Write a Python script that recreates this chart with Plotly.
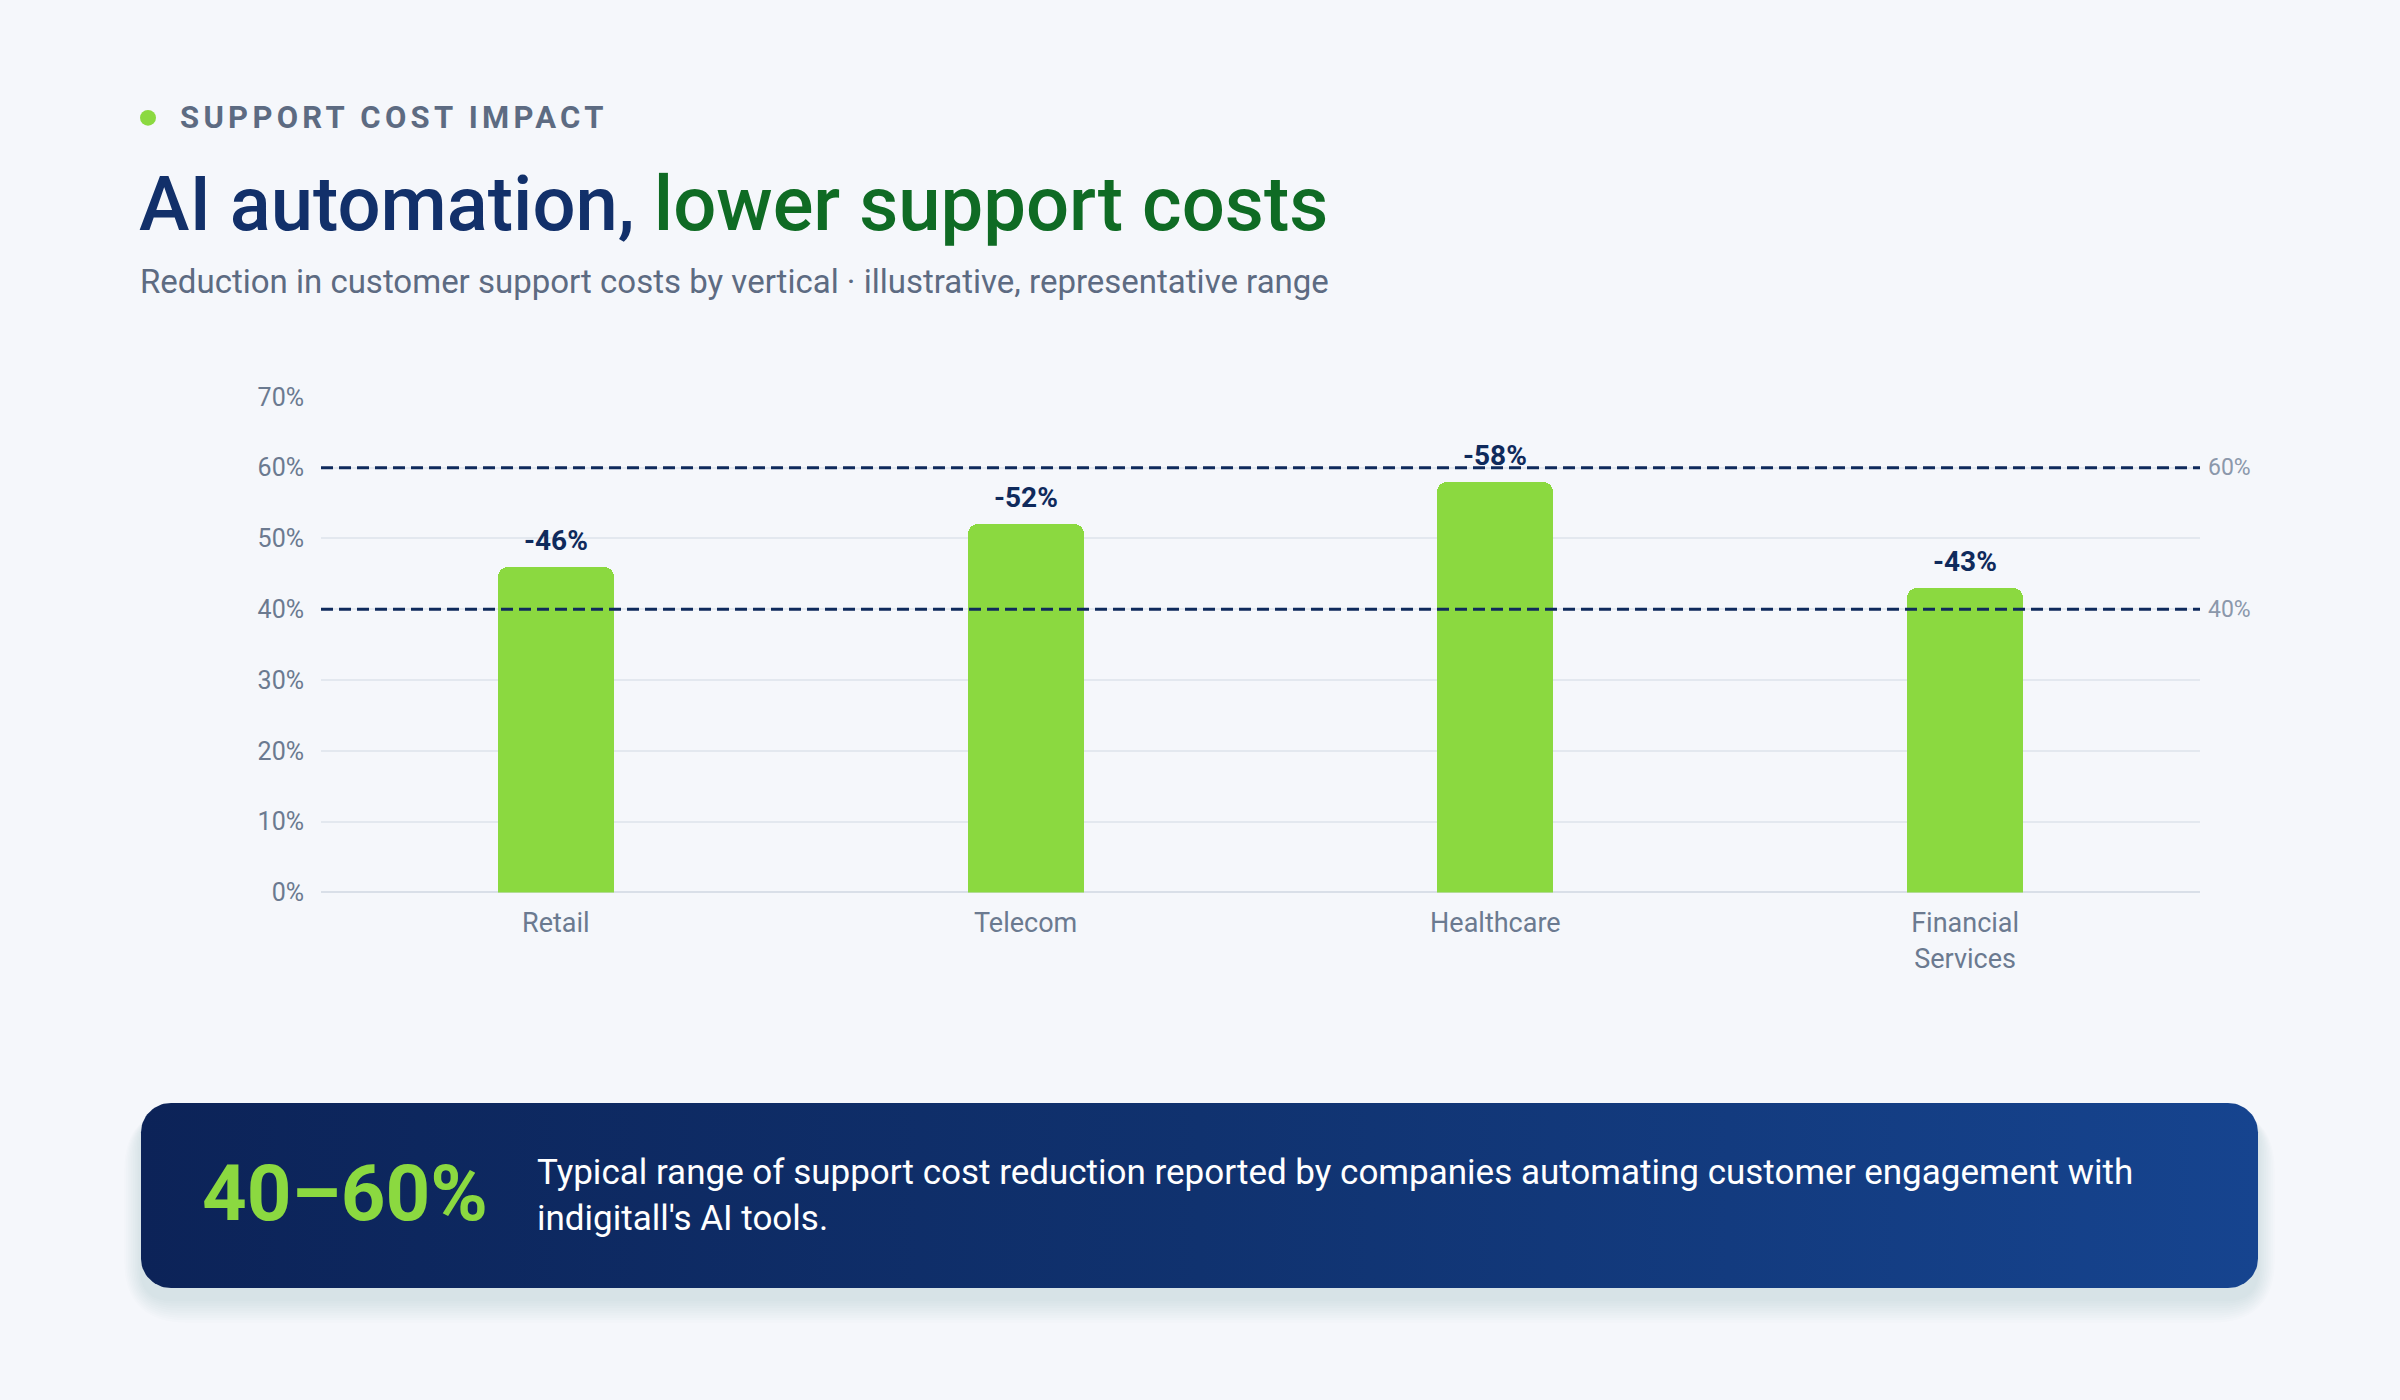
import numpy as np
import plotly.graph_objects as go

# ---------------- data ----------------
categories = ["Retail", "Telecom", "Healthcare", "Financial<br>Services"]
reduction_pct = [46, 52, 58, 43]
value_labels = ["-46%", "-52%", "-58%", "-43%"]
range_bounds = [60, 40]
range_labels = ["60%", "40%"]
y_ticks = [0, 10, 20, 30, 40, 50, 60, 70]
y_tick_labels = ["0%", "10%", "20%", "30%", "40%", "50%", "60%", "70%"]

eyebrow = "SUPPORT COST IMPACT"
title_a = "AI automation, "
title_b = "lower support costs"
subtitle = "Reduction in customer support costs by vertical · illustrative, representative range"
highlight_value = "40–60%"
highlight_text = ("Typical range of support cost reduction reported by companies automating customer engagement with"
                  "<br>indigitall's AI tools.")

# ---------------- style ----------------
W, H = 2400, 1400
BG = "#f5f7fb"
GREEN = "#8bd940"
DARK_GREEN = "#0f6b24"
NAVY = "#12306a"
LABEL_NAVY = "#0f2a5c"
GRAY = "#5d6b82"
TICK_GRAY = "#6b7a90"
LIGHT_GRAY = "#8b98ab"
GRID = "#e3e8ef"
FONT = "Roboto"


def px(x):
    return x / W


def py(y):
    return 1 - y / H


fig = go.Figure()

# bars
fig.add_trace(go.Bar(
    x=categories, y=reduction_pct,
    marker=dict(color=GREEN, cornerradius=10, line=dict(width=0)),
    width=0.247, hoverinfo="skip", showlegend=False,
    xaxis="x", yaxis="y",
))

# value labels above bars
for c, v, t in zip(categories, reduction_pct, value_labels):
    fig.add_annotation(x=c, y=v, xref="x", yref="y", text=t, showarrow=False,
                       yanchor="bottom", yshift=8,
                       font=dict(family=FONT, size=28, color=LABEL_NAVY, weight=700))

# dashed reference lines + right labels
for b, lab in zip(range_bounds, range_labels):
    fig.add_shape(type="line", xref="x domain", yref="y", x0=0, x1=1, y0=b, y1=b,
                  line=dict(color=LABEL_NAVY, width=3, dash="12px,6px"), layer="above")
    fig.add_annotation(xref="x domain", yref="y", x=1, y=b, text=lab, showarrow=False,
                       xanchor="left", xshift=6,
                       font=dict(family=FONT, size=23, color=LIGHT_GRAY))

# ---------------- bottom callout box (pixel overlay axes) ----------------
bx0, by0, bx1, by1, br = 141, 1112, 2258, 1301, 30


def rr_points(x0, y0, x1, y1, r, n=20):
    xs, ys = [], []
    corners = [(x1 - r, y0 + r, -np.pi / 2, 0), (x1 - r, y1 - r, 0, np.pi / 2),
               (x0 + r, y1 - r, np.pi / 2, np.pi), (x0 + r, y0 + r, np.pi, 1.5 * np.pi)]
    for cx, cy, a0, a1 in corners:
        a = np.linspace(a0, a1, n)
        xs.extend(cx + r * np.cos(a))
        ys.extend(cy + r * np.sin(a))
    xs.append(xs[0])
    ys.append(ys[0])
    return xs, ys


def rr_path(x0, y0, x1, y1, r):
    return (f"M {x0 + r},{y0} L {x1 - r},{y0} Q {x1},{y0} {x1},{y0 + r} "
            f"L {x1},{y1 - r} Q {x1},{y1} {x1 - r},{y1} L {x0 + r},{y1} "
            f"Q {x0},{y1} {x0},{y1 - r} L {x0},{y0 + r} Q {x0},{y0} {x0 + r},{y0} Z")


# soft shadow
for i in range(10):
    e = 2 + 3.5 * i
    fig.add_shape(type="path", xref="x2", yref="y2",
                  path=rr_path(bx0 - e * 0.5, by0 + 12 - e * 0.2, bx1 + e * 0.5, by1 + 12 + e * 0.7, br + e),
                  fillcolor="rgba(40,65,120,0.013)", line=dict(width=0), layer="below")

sx, sy = rr_points(bx0, by0, bx1, by1, br)
fig.add_trace(go.Scatter(
    x=sx, y=sy, mode="lines", fill="toself", line=dict(width=0),
    fillgradient=dict(type="horizontal", colorscale=[[0, "#0c2358"], [0.5, "#10326f"], [1, "#16448f"]]),
    hoverinfo="skip", showlegend=False, xaxis="x2", yaxis="y2",
))

fig.add_annotation(xref="paper", yref="paper", x=px(200), y=py(1204), text=f"<b>{highlight_value}</b>",
                   showarrow=False, xanchor="left", yanchor="middle",
                   font=dict(family=FONT, size=78, color=GREEN))
fig.add_annotation(xref="paper", yref="paper", x=px(535), y=py(1207), text=highlight_text,
                   showarrow=False, xanchor="left", yanchor="middle", align="left",
                   font=dict(family=FONT, size=35, color="#ffffff"))

# ---------------- header ----------------
fig.add_shape(type="circle", xref="paper", yref="paper",
              x0=px(140), x1=px(156), y0=py(114), y1=py(98),
              fillcolor=GREEN, line=dict(width=0))
fig.add_annotation(xref="paper", yref="paper", x=px(178), y=py(106),
                   text=f"<span style='letter-spacing:4.3px'>{eyebrow}</span>",
                   showarrow=False, xanchor="left", yanchor="middle",
                   font=dict(family=FONT, size=31, color=GRAY, weight=700))
fig.add_annotation(xref="paper", yref="paper", x=px(137), y=py(194),
                   text=f"<span style='color:{NAVY}'>{title_a}</span><span style='color:{DARK_GREEN}'>{title_b}</span>",
                   showarrow=False, xanchor="left", yanchor="middle",
                   font=dict(family=FONT, size=76, color=NAVY, weight=500))
fig.add_annotation(xref="paper", yref="paper", x=px(138), y=py(273), text=subtitle,
                   showarrow=False, xanchor="left", yanchor="middle",
                   font=dict(family=FONT, size=33, color=GRAY))

fig.update_layout(
    width=W, height=H,
    margin=dict(l=0, r=0, t=0, b=0),
    paper_bgcolor=BG, plot_bgcolor="rgba(0,0,0,0)",
    showlegend=False, bargap=0,
    font=dict(family=FONT, color=TICK_GRAY),
    xaxis=dict(domain=[px(321), px(2200)], anchor="y", showgrid=False, showline=False,
               zeroline=False, ticks="", ticklabelstandoff=12, fixedrange=True,
               tickfont=dict(family=FONT, size=27, color=TICK_GRAY)),
    yaxis=dict(domain=[py(897), py(391)], anchor="x", range=[0, 70],
               tickvals=y_ticks, ticktext=y_tick_labels,
               showgrid=True, gridcolor=GRID, gridwidth=2,
               zeroline=True, zerolinecolor="#d9dfe8", zerolinewidth=2,
               showline=False, ticks="", ticklabelstandoff=16, fixedrange=True,
               tickfont=dict(family=FONT, size=25, color=TICK_GRAY)),
    xaxis2=dict(domain=[0, 1], anchor="y2", range=[0, W], visible=False, fixedrange=True),
    yaxis2=dict(domain=[0, 1], anchor="x2", range=[H, 0], visible=False, fixedrange=True),
)

page_js = (
    "var css='margin:0;padding:0;width:2400px;height:1400px;overflow:hidden;background:#f5f7fb;';"
    "document.documentElement.style.cssText=css;document.body.style.cssText=css;"
    "var g=document.getElementById('{plot_id}');"
    "g.style.position='absolute';g.style.left='0px';g.style.top='0px';"
)
fig.write_html("out.html", config={"displayModeBar": False}, post_script=page_js)
